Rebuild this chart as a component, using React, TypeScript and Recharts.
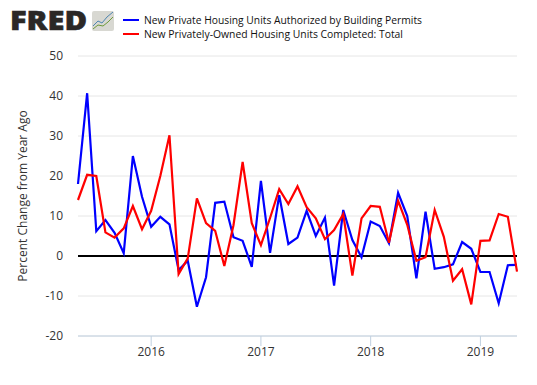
import React from "react";
import {
  CartesianGrid,
  Line,
  LineChart,
  ReferenceLine,
  XAxis,
  YAxis,
} from "recharts";

const months = [
  "2015-05", "2015-06", "2015-07", "2015-08", "2015-09", "2015-10", "2015-11", "2015-12",
  "2016-01", "2016-02", "2016-03", "2016-04", "2016-05", "2016-06", "2016-07", "2016-08",
  "2016-09", "2016-10", "2016-11", "2016-12", "2017-01", "2017-02", "2017-03", "2017-04",
  "2017-05", "2017-06", "2017-07", "2017-08", "2017-09", "2017-10", "2017-11", "2017-12",
  "2018-01", "2018-02", "2018-03", "2018-04", "2018-05", "2018-06", "2018-07", "2018-08",
  "2018-09", "2018-10", "2018-11", "2018-12", "2019-01", "2019-02", "2019-03", "2019-04",
  "2019-05",
];
const permits = [
  18, 40.7, 6.2, 9, 5.8, 0.7, 25, 14.8, 7.3, 9.8, 7.9, -3.5, -1.2, -12.7, -5.3, 13.3, 13.6,
  4.7, 3.8, -2.7, 18.8, 0.8, 15.2, 3, 4.6, 11.3, 5, 9.6, -7.4, 11.5, 4, -0.3, 8.6, 7.5, 3.2,
  15.8, 10, -5.6, 11.1, -3.2, -2.8, -2.1, 3.5, 1.8, -4, -4, -11.8, -2.3, -2.2,
];
const completed = [
  14, 20.3, 20, 5.9, 4.6, 6.9, 12.5, 6.7, 11.3, 20, 30.2, -4.5, -0.6, 14.4, 8.2, 6.3, -2.5,
  7.7, 23.5, 8.2, 2.7, 9.5, 16.7, 13, 17.4, 12.2, 9.4, 4.2, 6.5, 10.5, -4.9, 9.4, 12.5, 12.3,
  3.3, 13.8, 7.8, -1.2, -0.3, 11.5, 4.8, -6.2, -3.3, -12.1, 3.8, 3.9, 10.5, 9.8, -3.9,
];
const yTicks = [-20, -10, 0, 10, 20, 30, 40, 50];
const xTicks = ["2016-01", "2017-01", "2018-01", "2019-01"];
const permitsName = "New Private Housing Units Authorized by Building Permits";
const completedName = "New Privately-Owned Housing Units Completed: Total";

const data = months.map((month, i) => ({
  month,
  permits: permits[i],
  completed: completed[i],
}));

const font = "'Open Sans', sans-serif";

function Logo() {
  return (
    <svg width={118} height={44} style={{ position: "absolute", left: 0, top: 0 }}>
      <text
        x={10}
        y={30}
        fontFamily="'Open Sans', sans-serif"
        fontWeight={800}
        fontSize={27}
        fill="#2b2826"
        stroke="#2b2826"
        strokeWidth={0.6}
        textLength={77}
        lengthAdjust="spacingAndGlyphs"
      >
        FRED
      </text>
      <rect x={92} y={11} width={22} height={20} rx={2} fill="#d8d8d2" />
      <polyline points="93,26 98,21 102,23 107,17 113,12" fill="none" stroke="#4f86b0" strokeWidth={1} />
      <polyline points="93,29 98,25 103,26 108,22 113,17" fill="none" stroke="#6f9a3c" strokeWidth={1} />
    </svg>
  );
}

function Legend() {
  return (
    <svg width={350} height={44} style={{ position: "absolute", left: 120, top: 0 }}>
      <rect x={3} y={19} width={16} height={2} fill="#0000ff" />
      <rect x={3} y={33} width={16} height={2} fill="#ff0000" />
      <text x={24} y={23.5} fontFamily={font} fontSize={11} fill="#111" textLength={278} lengthAdjust="spacingAndGlyphs">
        {permitsName}
      </text>
      <text x={24} y={37.5} fontFamily={font} fontSize={11} fill="#111" textLength={259} lengthAdjust="spacingAndGlyphs">
        {completedName}
      </text>
    </svg>
  );
}

export default function App() {
  return (
    <div style={{ position: "absolute", left: 0, top: 0, width: 537, height: 385, background: "#fff" }}>
      <LineChart
        width={537}
        height={385}
        data={data}
        margin={{ top: 56, right: 20, left: 0, bottom: 0 }}
      >
        <CartesianGrid horizontal vertical={false} stroke="#e6e6e6" strokeWidth={1} />
        <XAxis
          dataKey="month"
          ticks={xTicks}
          interval={0}
          tickFormatter={(m: string) => m.slice(0, 4)}
          tickSize={10}
          tickMargin={1}
          height={49}
          stroke="#c0d0e0"
          tick={{ fill: "#333", fontSize: 12, fontFamily: font }}
        />
        <YAxis
          width={78}
          domain={[-20, 50]}
          ticks={yTicks}
          interval={0}
          axisLine={false}
          tickLine={false}
          tickSize={0}
          tickMargin={15}
          tick={{ fill: "#333", fontSize: 12, fontFamily: font }}
          label={{
            value: "Percent Change from Year Ago",
            angle: -90,
            position: "insideLeft",
            offset: 23,
            style: { fill: "#333", fontSize: 12, fontFamily: font, textAnchor: "middle" },
          }}
        />
        <ReferenceLine y={0} stroke="#000" strokeWidth={2} />
        <Line
          dataKey="permits"
          name={permitsName}
          stroke="#0000ff"
          strokeWidth={2.2}
          dot={false}
          isAnimationActive={false}
        />
        <Line
          dataKey="completed"
          name={completedName}
          stroke="#ff0000"
          strokeWidth={2.2}
          dot={false}
          isAnimationActive={false}
        />
      </LineChart>
      <Logo />
      <Legend />
    </div>
  );
}
